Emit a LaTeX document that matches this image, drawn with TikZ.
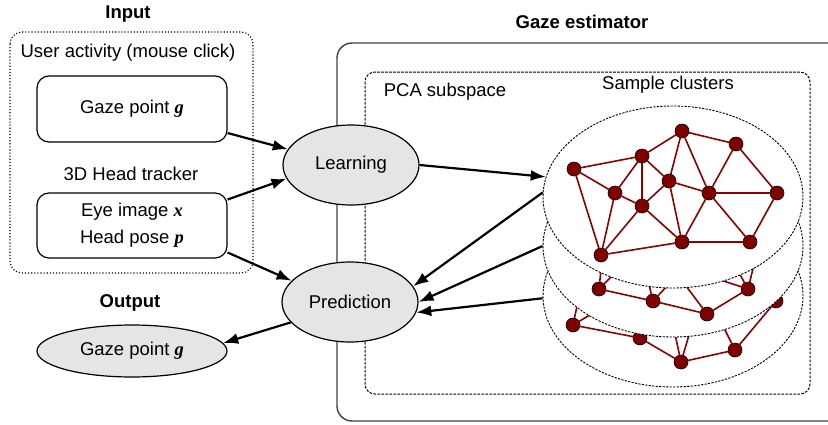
\documentclass[tikz,border=0pt]{standalone}
\usepackage{fontspec}
\setmainfont{Liberation Sans}
\newfontfamily\varfont{Liberation Serif}
\newcommand{\boldvar}[1]{{\varfont\bfseries\itshape #1}}
\usetikzlibrary{shapes.geometric,arrows.meta,calc}

\tikzset{
  srcbox/.style={draw, rounded corners=12pt, line width=1.2pt, minimum width=190pt, minimum height=66pt, align=center},
  procnode/.style={ellipse, draw, line width=1.2pt, fill=black!10, minimum width=136pt, minimum height=80pt, inner sep=0pt},
  layer/.style={ellipse, draw, fill=white, dash pattern=on 2.2pt off 1.3pt, line width=0.9pt, minimum width=260pt, minimum height=182pt},
  vtx/.style={circle, draw=black, line width=0.6pt, fill=red!50!black, minimum size=14pt, inner sep=0pt},
  link/.style={draw=red!55!black, line width=1.6pt},
  flow/.style={line width=2.2pt, -{Latex[length=15pt,width=11pt]}},
  title/.style={font=\fontsize{18.5}{22}\selectfont\bfseries}
}

\begin{document}
\begin{tikzpicture}[x=1pt, y=-1pt, font=\fontsize{18.5}{22}\selectfont]
    \clip (0,0) rectangle (828,424);

    % frames of the groups
    \draw[dotted, line width=1.1pt, rounded corners=12pt] (10,32) rectangle (253,273);
    \draw[line width=1.4pt, black!75, rounded corners=15pt] (337,43) rectangle (860,421);
    \draw[dash pattern=on 2.6pt off 1.4pt, line width=1pt, rounded corners=10pt] (365,72) rectangle (810,394);

    % group labels
    \node[title] (intitle) at (128,14) {Input};
    \node (clicklabel) at (128,53) {User activity (mouse click)};
    \node (trackerlabel) at (131,174) {3D Head tracker};
    \node[title] (outtitle) at (130,303) {Output};
    \node[title] (esttitle) at (582,22) {Gaze estimator};
    \node (pcalabel) at (445,92) {PCA subspace};
    \node (clusterlabel) at (668,85) {Sample clusters};

    % inputs and output
    \node[srcbox] (gazein) at (132,109) {Gaze point \boldvar{g}};
    \node[srcbox, minimum height=65pt, font=\fontsize{18.5}{27}\selectfont] (eyein) at (132,225.5)
      {Eye image \boldvar{x}\\Head pose \boldvar{p}};
    \node[procnode, minimum width=190pt, minimum height=52pt] (gazeout) at (132,351) {Gaze point \boldvar{g}};

    % learning and prediction
    \node[procnode] (learn) at (351,165) {Learning};
    \node[procnode] (predict) at (350,302) {Prediction};

    % bottom cluster
    \node[layer] (layerC) at (673,296) {};
    \foreach \n/\x/\y in {b1/573/325, b2/640/338, b3/681/362, b4/735/350, b5/776/301,
                          bh1/580/292, bh2/615/300, bh3/672/320, bh4/695/315, bh5/720/320}
      \node[vtx] (\n) at (\x,\y) {};
    \foreach \a/\b in {b1/b2, b2/b3, b3/b4, b4/b5, b1/bh1, b1/bh2, b3/bh3, b3/bh4, b4/bh5}
      \draw[link] (\a) -- (\b);

    % middle cluster
    \node[layer] (layerB) at (673,246) {};
    \foreach \n/\x/\y in {m1/599/289, m2/653/301, m3/707/314, m4/748/289,
                          mh1/604/240, mh2/640/248, mh3/684/268, mh4/668/262, mh5/733/262, mh6/758/248}
      \node[vtx] (\n) at (\x,\y) {};
    \foreach \a/\b in {m1/m2, m2/m3, m3/m4, m1/mh1, m1/mh2, m2/mh2, m2/mh3, m3/mh4, m4/mh3, m4/mh5, m4/mh6}
      \draw[link] (\a) -- (\b);

    % top cluster
    \node[layer] (layerA) at (673,197) {};
    \foreach \n/\x/\y in {t1/574/169, t2/642/156, t3/682/131, t4/736/144, t5/615/193, t6/669/181,
                          t7/642/206, t8/709/193, t9/777/193, t10/601/255, t11/682/242, t12/750/242}
      \node[vtx] (\n) at (\x,\y) {};
    \foreach \a/\b in {t1/t2, t1/t5, t1/t10, t2/t3, t2/t5, t2/t7, t2/t6, t3/t4, t3/t6, t3/t8,
                       t4/t8, t4/t9, t5/t7, t5/t10, t6/t7, t6/t8, t6/t11, t7/t10, t7/t11,
                       t8/t9, t8/t11, t8/t12, t9/t12, t10/t11, t11/t12}
      \draw[link] (\a) -- (\b);

    % data flow
    \draw[flow] ($(gazein.east)+(0,24)$) -- (learn.166);
    \draw[flow] ($(eyein.east)+(0,-26)$) -- (learn.192);
    \draw[flow] ($(eyein.east)+(0,27)$) -- (predict.160);
    \draw[flow] (learn.east) -- (layerA.171);
    \draw[flow] (layerA.178) -- (predict.14);
    \draw[flow] (layerB.west) -- (predict.east);
    \draw[flow] (layerC.181) -- (predict.-9);
    \draw[flow] (predict.199) -- (gazeout.5);

\end{tikzpicture}
\end{document}
